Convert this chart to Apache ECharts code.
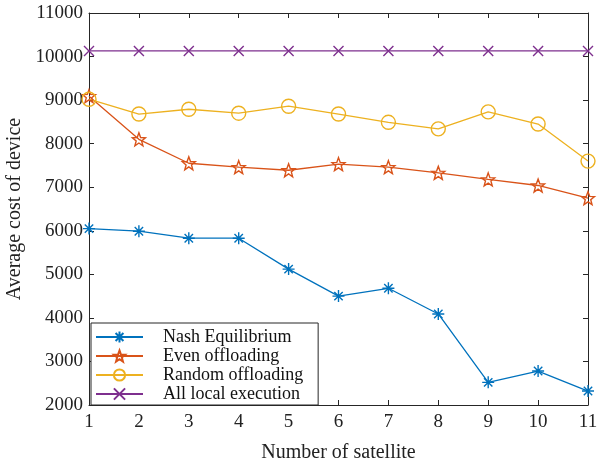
<!DOCTYPE html>
<html><head><meta charset="utf-8">
<script src="https://cdn.jsdelivr.net/npm/echarts@6/dist/echarts.min.js"></script>
<style>html,body{margin:0;padding:0;background:#fff}#c{width:602px;height:460px}</style>
</head><body><div id="c"></div>
<script>
const satellites = [1,2,3,4,5,6,7,8,9,10,11];
const nashEq = [6050,5990,5830,5830,5120,4500,4680,4090,2520,2780,2320];
const evenOff = [9090,8100,7550,7460,7390,7530,7460,7330,7180,7040,6750];
const randomOff = [9020,8680,8790,8700,8860,8680,8490,8340,8730,8450,7600];
const localExec = [10130,10130,10130,10130,10130,10130,10130,10130,10130,10130,10130];
const yTicks = [2000,3000,4000,5000,6000,7000,8000,9000,10000,11000];

const font = '"Liberation Serif", "Times New Roman", serif';
const ASTER = 'path://M0,-1L0,1M-1,0L1,0M-0.7,-0.7L0.7,0.7M-0.7,0.7L0.7,-0.7';
const CROSS = 'path://M-1,-1L1,1M-1,1L1,-1';
function starPath(){
  let p = [];
  for (let i=0;i<10;i++){
    const r = i%2===0 ? 1 : 0.42;
    const a = -Math.PI/2 + i*Math.PI/5;
    p.push((i?'L':'M') + (r*Math.cos(a)).toFixed(3) + ',' + (r*Math.sin(a)).toFixed(3));
  }
  return 'path://' + p.join('') + 'Z';
}
const STAR = starPath();
const pairs = arr => satellites.map((x,i)=>[x,arr[i]]);

function mk(name, arr, color, symbol, size){
  return {
    name, type:'line', data: pairs(arr), symbol, symbolSize: size,
    showAllSymbol:true,
    lineStyle:{color, width:1.3},
    itemStyle:{color:'rgba(255,255,255,0)', borderColor:color, borderWidth:1.4},
    emphasis:{disabled:true}, animation:false
  };
}

const chart = echarts.init(document.getElementById('c'));
const axisCommon = {
  axisLine:{show:true, lineStyle:{color:'#262626', width:1}},
  axisTick:{show:true, inside:true, length:5, lineStyle:{color:'#262626'}},
  splitLine:{show:false}
};
const labelFmt = v => String(v);
chart.setOption({
  backgroundColor:'#fff',
  animation:false,
  grid:{left:89, right:14, top:13, bottom:55, containLabel:false, outerBoundsMode:'none'},
  legend:{
    orient:'vertical', left:91, top:323,
    backgroundColor:'#fff', borderColor:'#262626', borderWidth:1,
    padding:[5,15,2,4], itemGap:1, itemWidth:47, itemHeight:14,
    textStyle:{fontFamily:font, fontSize:18, lineHeight:18, color:'#111', padding:[0,0,0,15]},
    data:['Nash Equilibrium','Even offloading','Random offloading','All local execution']
  },
  xAxis:[
    Object.assign({type:'value', min:1, max:11, interval:1,
      name:'Number of satellite', nameLocation:'middle', nameGap:38,
      nameTextStyle:{fontFamily:font, fontSize:20, color:'#222'},
      axisLabel:{fontFamily:font, fontSize:19, color:'#222', margin:8, formatter:labelFmt}}, axisCommon),
    Object.assign({type:'value', min:1, max:11, interval:1, position:'top',
      axisLabel:{show:false}}, axisCommon)
  ],
  yAxis:[
    Object.assign({type:'value', min:yTicks[0], max:yTicks[yTicks.length-1], interval:1000,
      name:'Average cost of device', nameLocation:'middle', nameGap:63,
      nameTextStyle:{fontFamily:font, fontSize:20, color:'#222'},
      axisLabel:{fontFamily:font, fontSize:19, color:'#222', margin:6, formatter:labelFmt}}, axisCommon),
    Object.assign({type:'value', min:yTicks[0], max:yTicks[yTicks.length-1], interval:1000, position:'right',
      axisLabel:{show:false}}, axisCommon)
  ],
  series:[
    mk('Nash Equilibrium', nashEq, '#0072BD', ASTER, 12),
    mk('Even offloading', evenOff, '#D95319', STAR, 13),
    mk('Random offloading', randomOff, '#EDB120', 'circle', 14),
    mk('All local execution', localExec, '#7E2F8E', CROSS, 10)
  ]
});
</script></body></html>
